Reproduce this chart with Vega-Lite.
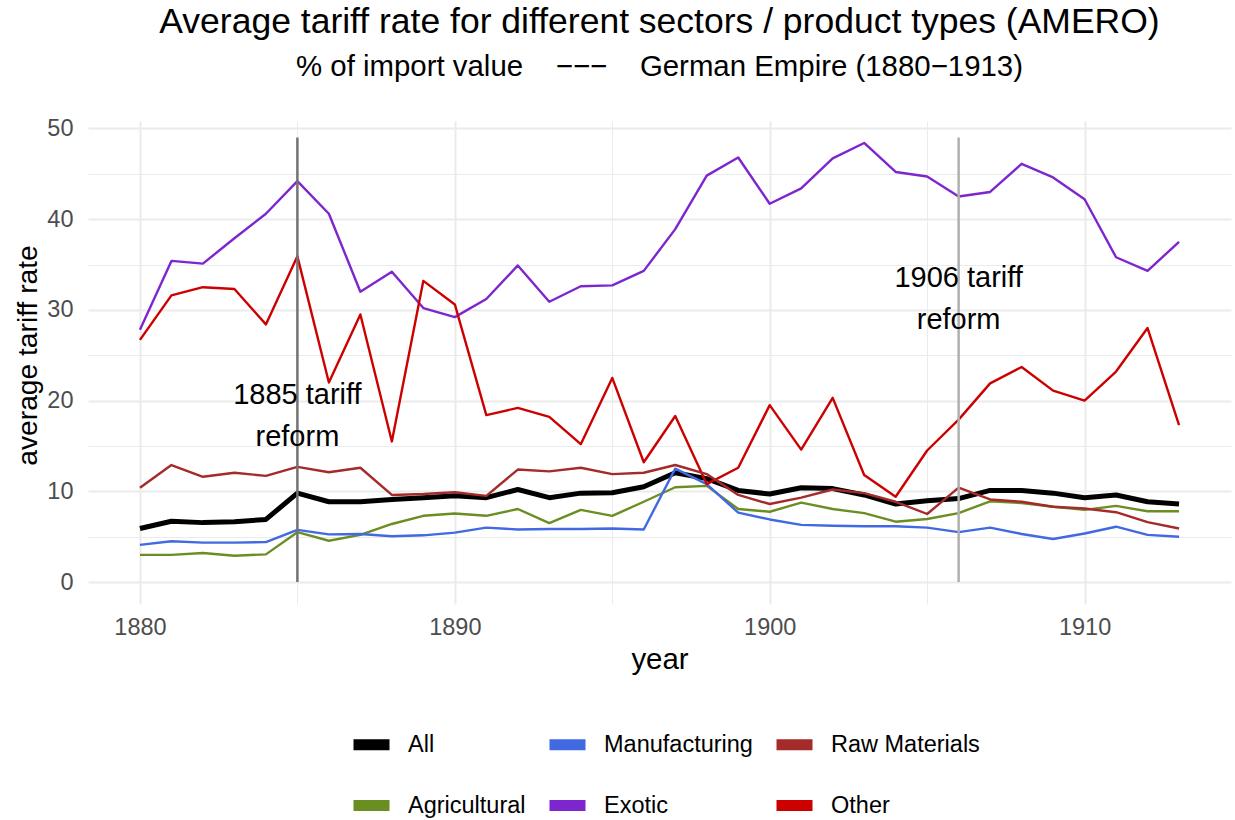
{
  "$schema": "https://vega.github.io/schema/vega-lite/v6.json",
  "width": 1143,
  "height": 483,
  "autosize": {"type": "none"},
  "padding": {"left": 88, "top": 121, "right": 4, "bottom": 216},
  "background": "white",
  "config": {
    "font": "Liberation Sans",
    "view": {"stroke": null},
    "axisX": {
      "titleFontSize": 29.4, "titleFontWeight": "normal", "titleColor": "black",
      "labelFontSize": 23.5, "labelColor": "#4D4D4D", "labelPadding": 11, "titlePadding": 7,
      "ticks": false, "domain": false, "gridColor": "#EBEBEB", "labelFlush": false, "labelOverlap": false
    },
    "axisY": {
      "titleFontSize": 28.2, "titleFontWeight": "normal", "titleColor": "black",
      "labelFontSize": 23.5, "labelColor": "#4D4D4D", "labelPadding": 15, "titlePadding": 4,
      "titleY": 234,
      "ticks": false, "domain": false, "gridColor": "#EBEBEB", "labelOverlap": false
    }
  },
  "title": {
    "text": "\u00a0\u00a0\u00a0Average tariff rate for different sectors / product types (AMERO)",
    "subtitle": "% of import value\u00a0\u00a0\u00a0\u00a0−−−\u00a0\u00a0\u00a0\u00a0German Empire (1880−1913)",
    "fontSize": 35.5, "subtitleFontSize": 29.4, "fontWeight": "normal",
    "color": "black", "subtitleColor": "black",
    "anchor": "middle", "frame": "group", "offset": 35, "subtitlePadding": 13
  },
  "layer": [
    {
      "data": {"values": [
        {"year":1880,"series":"Agricultural","value":3.0},{"year":1881,"series":"Agricultural","value":3.0},{"year":1882,"series":"Agricultural","value":3.2},{"year":1883,"series":"Agricultural","value":2.9},{"year":1884,"series":"Agricultural","value":3.05},{"year":1885,"series":"Agricultural","value":5.5},{"year":1886,"series":"Agricultural","value":4.55},{"year":1887,"series":"Agricultural","value":5.2},{"year":1888,"series":"Agricultural","value":6.4},{"year":1889,"series":"Agricultural","value":7.3},{"year":1890,"series":"Agricultural","value":7.55},{"year":1891,"series":"Agricultural","value":7.3},{"year":1892,"series":"Agricultural","value":8.05},{"year":1893,"series":"Agricultural","value":6.5},{"year":1894,"series":"Agricultural","value":7.95},{"year":1895,"series":"Agricultural","value":7.3},{"year":1896,"series":"Agricultural","value":8.85},{"year":1897,"series":"Agricultural","value":10.45},{"year":1898,"series":"Agricultural","value":10.6},{"year":1899,"series":"Agricultural","value":8.05},{"year":1900,"series":"Agricultural","value":7.75},{"year":1901,"series":"Agricultural","value":8.75},{"year":1902,"series":"Agricultural","value":8.05},{"year":1903,"series":"Agricultural","value":7.6},{"year":1904,"series":"Agricultural","value":6.65},{"year":1905,"series":"Agricultural","value":6.95},{"year":1906,"series":"Agricultural","value":7.6},{"year":1907,"series":"Agricultural","value":8.9},{"year":1908,"series":"Agricultural","value":8.7},{"year":1909,"series":"Agricultural","value":8.3},{"year":1910,"series":"Agricultural","value":7.95},{"year":1911,"series":"Agricultural","value":8.4},{"year":1912,"series":"Agricultural","value":7.8},{"year":1913,"series":"Agricultural","value":7.8},
        {"year":1880,"series":"All","value":5.9},{"year":1881,"series":"All","value":6.7},{"year":1882,"series":"All","value":6.55},{"year":1883,"series":"All","value":6.65},{"year":1884,"series":"All","value":6.9},{"year":1885,"series":"All","value":9.8},{"year":1886,"series":"All","value":8.85},{"year":1887,"series":"All","value":8.85},{"year":1888,"series":"All","value":9.1},{"year":1889,"series":"All","value":9.3},{"year":1890,"series":"All","value":9.5},{"year":1891,"series":"All","value":9.3},{"year":1892,"series":"All","value":10.2},{"year":1893,"series":"All","value":9.3},{"year":1894,"series":"All","value":9.8},{"year":1895,"series":"All","value":9.85},{"year":1896,"series":"All","value":10.5},{"year":1897,"series":"All","value":12.05},{"year":1898,"series":"All","value":11.4},{"year":1899,"series":"All","value":10.1},{"year":1900,"series":"All","value":9.7},{"year":1901,"series":"All","value":10.4},{"year":1902,"series":"All","value":10.3},{"year":1903,"series":"All","value":9.6},{"year":1904,"series":"All","value":8.6},{"year":1905,"series":"All","value":8.95},{"year":1906,"series":"All","value":9.2},{"year":1907,"series":"All","value":10.1},{"year":1908,"series":"All","value":10.1},{"year":1909,"series":"All","value":9.8},{"year":1910,"series":"All","value":9.3},{"year":1911,"series":"All","value":9.6},{"year":1912,"series":"All","value":8.85},{"year":1913,"series":"All","value":8.6},
        {"year":1880,"series":"Exotic","value":27.8},{"year":1881,"series":"Exotic","value":35.4},{"year":1882,"series":"Exotic","value":35.1},{"year":1883,"series":"Exotic","value":37.9},{"year":1884,"series":"Exotic","value":40.6},{"year":1885,"series":"Exotic","value":44.2},{"year":1886,"series":"Exotic","value":40.6},{"year":1887,"series":"Exotic","value":32.0},{"year":1888,"series":"Exotic","value":34.2},{"year":1889,"series":"Exotic","value":30.2},{"year":1890,"series":"Exotic","value":29.2},{"year":1891,"series":"Exotic","value":31.2},{"year":1892,"series":"Exotic","value":34.9},{"year":1893,"series":"Exotic","value":30.9},{"year":1894,"series":"Exotic","value":32.6},{"year":1895,"series":"Exotic","value":32.7},{"year":1896,"series":"Exotic","value":34.3},{"year":1897,"series":"Exotic","value":38.9},{"year":1898,"series":"Exotic","value":44.8},{"year":1899,"series":"Exotic","value":46.8},{"year":1900,"series":"Exotic","value":41.7},{"year":1901,"series":"Exotic","value":43.4},{"year":1902,"series":"Exotic","value":46.7},{"year":1903,"series":"Exotic","value":48.4},{"year":1904,"series":"Exotic","value":45.2},{"year":1905,"series":"Exotic","value":44.7},{"year":1906,"series":"Exotic","value":42.5},{"year":1907,"series":"Exotic","value":43.0},{"year":1908,"series":"Exotic","value":46.1},{"year":1909,"series":"Exotic","value":44.6},{"year":1910,"series":"Exotic","value":42.2},{"year":1911,"series":"Exotic","value":35.8},{"year":1912,"series":"Exotic","value":34.3},{"year":1913,"series":"Exotic","value":37.5},
        {"year":1880,"series":"Manufacturing","value":4.1},{"year":1881,"series":"Manufacturing","value":4.5},{"year":1882,"series":"Manufacturing","value":4.35},{"year":1883,"series":"Manufacturing","value":4.35},{"year":1884,"series":"Manufacturing","value":4.4},{"year":1885,"series":"Manufacturing","value":5.75},{"year":1886,"series":"Manufacturing","value":5.25},{"year":1887,"series":"Manufacturing","value":5.3},{"year":1888,"series":"Manufacturing","value":5.05},{"year":1889,"series":"Manufacturing","value":5.15},{"year":1890,"series":"Manufacturing","value":5.45},{"year":1891,"series":"Manufacturing","value":6.0},{"year":1892,"series":"Manufacturing","value":5.8},{"year":1893,"series":"Manufacturing","value":5.85},{"year":1894,"series":"Manufacturing","value":5.85},{"year":1895,"series":"Manufacturing","value":5.9},{"year":1896,"series":"Manufacturing","value":5.8},{"year":1897,"series":"Manufacturing","value":12.5},{"year":1898,"series":"Manufacturing","value":10.8},{"year":1899,"series":"Manufacturing","value":7.65},{"year":1900,"series":"Manufacturing","value":6.9},{"year":1901,"series":"Manufacturing","value":6.3},{"year":1902,"series":"Manufacturing","value":6.2},{"year":1903,"series":"Manufacturing","value":6.15},{"year":1904,"series":"Manufacturing","value":6.15},{"year":1905,"series":"Manufacturing","value":6.0},{"year":1906,"series":"Manufacturing","value":5.5},{"year":1907,"series":"Manufacturing","value":6.0},{"year":1908,"series":"Manufacturing","value":5.3},{"year":1909,"series":"Manufacturing","value":4.75},{"year":1910,"series":"Manufacturing","value":5.35},{"year":1911,"series":"Manufacturing","value":6.1},{"year":1912,"series":"Manufacturing","value":5.2},{"year":1913,"series":"Manufacturing","value":5.0},
        {"year":1880,"series":"Other","value":26.7},{"year":1881,"series":"Other","value":31.6},{"year":1882,"series":"Other","value":32.5},{"year":1883,"series":"Other","value":32.3},{"year":1884,"series":"Other","value":28.4},{"year":1885,"series":"Other","value":35.9},{"year":1886,"series":"Other","value":22.0},{"year":1887,"series":"Other","value":29.5},{"year":1888,"series":"Other","value":15.5},{"year":1889,"series":"Other","value":33.2},{"year":1890,"series":"Other","value":30.6},{"year":1891,"series":"Other","value":18.4},{"year":1892,"series":"Other","value":19.2},{"year":1893,"series":"Other","value":18.2},{"year":1894,"series":"Other","value":15.2},{"year":1895,"series":"Other","value":22.5},{"year":1896,"series":"Other","value":13.2},{"year":1897,"series":"Other","value":18.3},{"year":1898,"series":"Other","value":10.8},{"year":1899,"series":"Other","value":12.6},{"year":1900,"series":"Other","value":19.5},{"year":1901,"series":"Other","value":14.6},{"year":1902,"series":"Other","value":20.3},{"year":1903,"series":"Other","value":11.8},{"year":1904,"series":"Other","value":9.4},{"year":1905,"series":"Other","value":14.5},{"year":1906,"series":"Other","value":17.9},{"year":1907,"series":"Other","value":21.9},{"year":1908,"series":"Other","value":23.7},{"year":1909,"series":"Other","value":21.1},{"year":1910,"series":"Other","value":20.0},{"year":1911,"series":"Other","value":23.2},{"year":1912,"series":"Other","value":28.0},{"year":1913,"series":"Other","value":17.3},
        {"year":1880,"series":"Raw Materials","value":10.4},{"year":1881,"series":"Raw Materials","value":12.9},{"year":1882,"series":"Raw Materials","value":11.6},{"year":1883,"series":"Raw Materials","value":12.05},{"year":1884,"series":"Raw Materials","value":11.7},{"year":1885,"series":"Raw Materials","value":12.7},{"year":1886,"series":"Raw Materials","value":12.1},{"year":1887,"series":"Raw Materials","value":12.6},{"year":1888,"series":"Raw Materials","value":9.6},{"year":1889,"series":"Raw Materials","value":9.7},{"year":1890,"series":"Raw Materials","value":9.9},{"year":1891,"series":"Raw Materials","value":9.5},{"year":1892,"series":"Raw Materials","value":12.4},{"year":1893,"series":"Raw Materials","value":12.2},{"year":1894,"series":"Raw Materials","value":12.6},{"year":1895,"series":"Raw Materials","value":11.9},{"year":1896,"series":"Raw Materials","value":12.05},{"year":1897,"series":"Raw Materials","value":12.9},{"year":1898,"series":"Raw Materials","value":11.9},{"year":1899,"series":"Raw Materials","value":9.6},{"year":1900,"series":"Raw Materials","value":8.6},{"year":1901,"series":"Raw Materials","value":9.3},{"year":1902,"series":"Raw Materials","value":10.2},{"year":1903,"series":"Raw Materials","value":9.8},{"year":1904,"series":"Raw Materials","value":8.85},{"year":1905,"series":"Raw Materials","value":7.5},{"year":1906,"series":"Raw Materials","value":10.4},{"year":1907,"series":"Raw Materials","value":9.1},{"year":1908,"series":"Raw Materials","value":8.85},{"year":1909,"series":"Raw Materials","value":8.3},{"year":1910,"series":"Raw Materials","value":8.1},{"year":1911,"series":"Raw Materials","value":7.7},{"year":1912,"series":"Raw Materials","value":6.6},{"year":1913,"series":"Raw Materials","value":5.9}
      ]},
      "mark": {"type": "line", "strokeJoin": "round", "strokeCap": "butt"},
      "encoding": {
        "x": {
          "field": "year", "type": "quantitative", "title": "year",
          "scale": {"domain": [1878.35, 1914.65], "nice": false, "zero": false},
          "axis": {
            "values": [1880, 1885, 1890, 1895, 1900, 1905, 1910],
            "format": "d",
            "labelExpr": "datum.value % 10 === 0 ? datum.label : ''",
            "gridWidth": {"condition": {"test": "datum.value % 10 === 0", "value": 2}, "value": 1}
          }
        },
        "y": {
          "field": "value", "type": "quantitative", "title": "average tariff rate",
          "scale": {"domain": [-2.42, 50.82], "nice": false, "zero": false},
          "axis": {
            "values": [0, 5, 10, 15, 20, 25, 30, 35, 40, 45, 50],
            "labelExpr": "datum.value % 10 === 0 ? datum.label : ''",
            "gridWidth": {"condition": {"test": "datum.value % 10 === 0", "value": 2}, "value": 1}
          }
        },
        "color": {
          "field": "series", "type": "nominal",
          "scale": {
            "domain": ["All", "Manufacturing", "Raw Materials", "Agricultural", "Exotic", "Other"],
            "range": ["#000000", "#4169E1", "#A52A2A", "#6B8E23", "#7D26CD", "#CD0000"]
          },
          "legend": {
            "orient": "none", "legendX": 260, "legendY": 600,
            "direction": "horizontal", "columns": 3, "title": null,
            "symbolType": "stroke", "symbolSize": 1296, "symbolStrokeWidth": 11,
            "labelFontSize": 23.5, "labelColor": "black", "labelOffset": 13,
            "columnPadding": 1, "rowPadding": 15, "symbolOpacity": 1
          }
        },
        "strokeWidth": {"condition": {"test": "datum.series === 'All'", "value": 5}, "value": 2.4}
      }
    },
    {
      "data": {"values": [{"year": 1885, "y": 0, "y2": 49}, {"year": 1906, "y": 0, "y2": 49}]},
      "mark": {"type": "rule", "strokeWidth": 2.5},
      "encoding": {
        "x": {"field": "year", "type": "quantitative", "title": "year"},
        "y": {"field": "y", "type": "quantitative", "title": "average tariff rate"},
        "y2": {"field": "y2"},
        "color": {"condition": {"test": "datum.year === 1885", "value": "#737373"}, "value": "#B0B0B0"}
      }
    },
    {
      "data": {"values": [{"year": 1885, "y": 20.6, "label": "1885 tariff\nreform"}, {"year": 1906, "y": 33.5, "label": "1906 tariff\nreform"}]},
      "mark": {"type": "text", "fontSize": 29, "lineBreak": "\n", "lineHeight": 42, "baseline": "middle", "align": "center", "color": "black"},
      "encoding": {
        "x": {"field": "year", "type": "quantitative", "title": "year"},
        "y": {"field": "y", "type": "quantitative", "title": "average tariff rate"},
        "text": {"field": "label"}
      }
    }
  ]
}
